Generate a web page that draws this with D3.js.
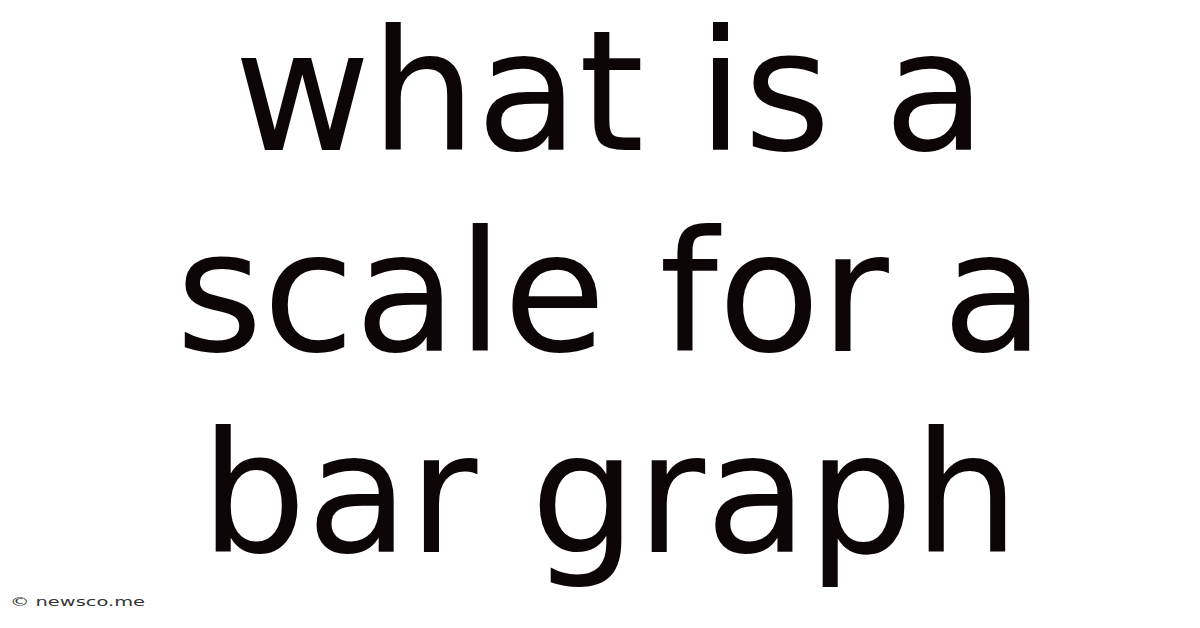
<!DOCTYPE html>
<html lang="en">
<head>
	<meta charset="UTF-8">
	<title>what is a scale for a bar graph</title>
	<style>
		html, body { margin: 0; padding: 0; background: #fff; }
		svg { display: block; }
	</style>
	<script src="https://d3js.org/d3.v7.min.js"></script>
</head>
<body>
	<script type="text/javascript">
		const width = 1200;
		const height = 628;

		// title lines, top to bottom
		const titleLines = ["what is a", "scale for a", "bar graph"];
		const watermark = "\u00a9 newsco.me";

		const svg = d3.select("body").append("svg")
			.attr("width", width)
			.attr("height", height);

		svg.append("rect")
			.attr("width", width)
			.attr("height", height)
			.attr("fill", "#ffffff");

		// baselines spread evenly with a point scale
		const y = d3.scalePoint()
			.domain(d3.range(titleLines.length))
			.range([150, 552]);

		svg.selectAll(".title-line")
			.data(titleLines)
			.join("text")
			.classed("title-line", true)
			.attr("x", 610)
			.attr("y", (d, i) => y(i))
			.attr("text-anchor", "middle")
			.attr("font-family", "'DejaVu Sans', sans-serif")
			.attr("font-size", 167)
			.attr("fill", "#0d0607")
			.text(d => d);

		// small credit bottom left, it's stretched wide in the original
		svg.append("text")
			.attr("x", 10)
			.attr("y", 606)
			.attr("font-family", "'DejaVu Sans', sans-serif")
			.attr("font-size", 12)
			.attr("textLength", 135)
			.attr("lengthAdjust", "spacingAndGlyphs")
			.attr("fill", "#333")
			.text(watermark);
	</script>
</body>
</html>
